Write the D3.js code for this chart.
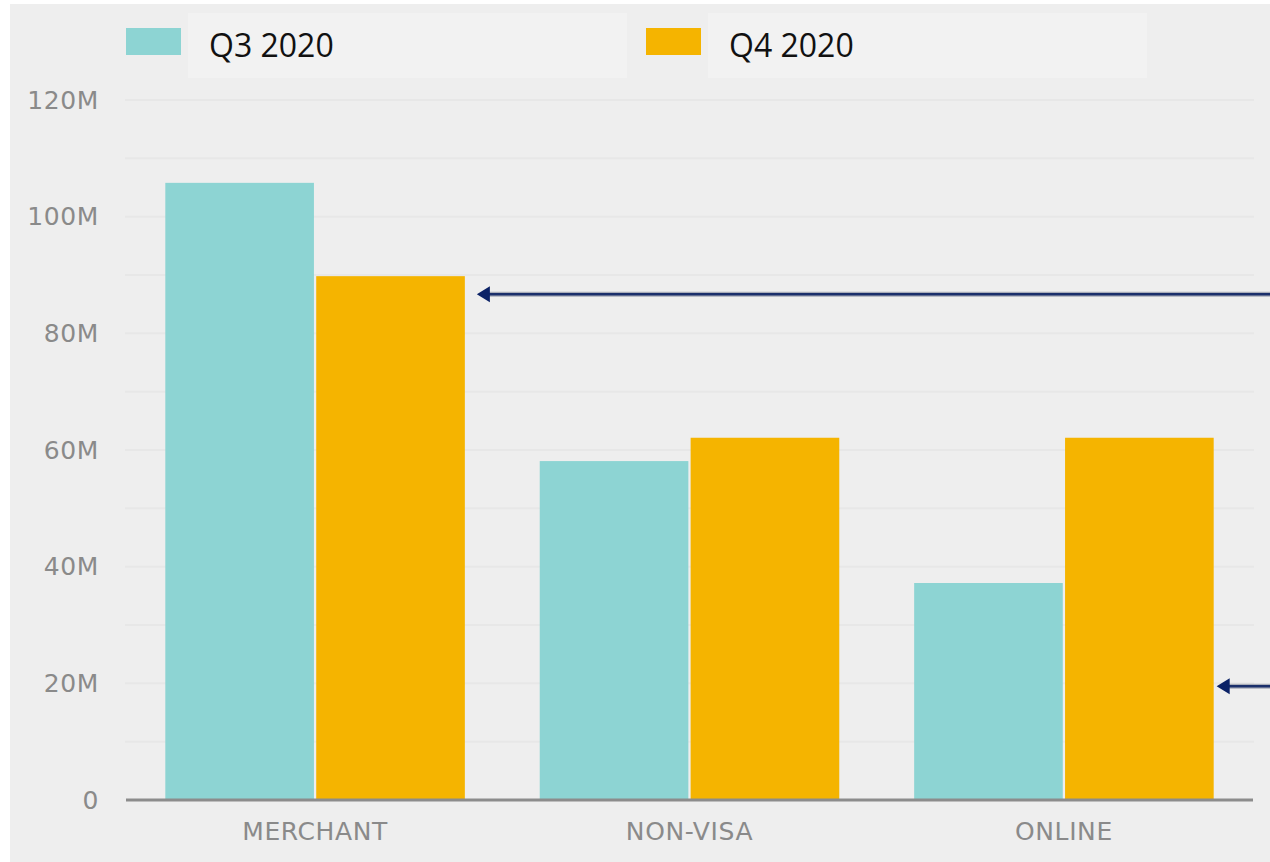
<!DOCTYPE html>
<html>
<head>
<meta charset="utf-8">
<script src="https://cdn.jsdelivr.net/npm/d3@7"></script>
<style>
  html, body { margin: 0; padding: 0; background: #ffffff; }
  svg { display: block; }
</style>
</head>
<body>
<svg id="chart" width="1270" height="862"></svg>
<script>
// data
const categories = ["MERCHANT", "NON-VISA", "ONLINE"]
const seriesNames = ["Q3 2020", "Q4 2020"]
const q3Values = [105.8e6, 58.1e6, 37.2e6]
const q4Values = [89.8e6, 62.1e6, 62.1e6]
const yTickValues = [0, 20e6, 40e6, 60e6, 80e6, 100e6, 120e6]
const yTickLabels = ["0", "20M", "40M", "60M", "80M", "100M", "120M"]
const gridValues = [10e6, 20e6, 30e6, 40e6, 50e6, 60e6, 70e6, 80e6, 90e6, 100e6, 110e6, 120e6]
// annotation arrows (point at a bar, at a given value)
const arrowCategories = ["MERCHANT", "ONLINE"]
const arrowSeries = ["Q4 2020", "Q4 2020"]
const arrowValues = [86.7e6, 19.5e6]

const colors = { "Q3 2020": "#8dd4d3", "Q4 2020": "#f5b400" }

const rows = categories.map((c, i) => ({
  category: c,
  values: [
    { series: seriesNames[0], value: q3Values[i] },
    { series: seriesNames[1], value: q4Values[i] }
  ]
}))

const svg = d3.select("#chart")

// panel background
svg.append("rect")
  .attr("x", 10).attr("y", 4)
  .attr("width", 1260).attr("height", 858)
  .attr("fill", "#eeeeee")

const plotLeft = 126, plotRight = 1253, plotTop = 100, plotBottom = 800

const x0 = d3.scaleBand()
  .domain(categories)
  .range([plotLeft, plotRight])
  .paddingInner(0.2)
  .paddingOuter(0.105)

const x1 = d3.scaleBand()
  .domain(seriesNames)
  .range([0, x0.bandwidth()])
  .paddingInner(0.015)

const y = d3.scaleLinear()
  .domain([0, 120e6])
  .range([plotBottom, plotTop])

// gridlines
svg.append("g")
  .selectAll("line")
  .data(gridValues)
  .join("line")
    .attr("x1", plotLeft - 1)
    .attr("x2", plotRight + 1)
    .attr("y1", d => y(d))
    .attr("y2", d => y(d))
    .attr("stroke", "#e7e7e7")
    .attr("stroke-width", 2)

const labelStyle = g => g.selectAll("text")
  .attr("fill", "#8a8a8a")
  .attr("font-family", "DejaVu Sans, sans-serif")
  .attr("font-size", 25)
  .attr("letter-spacing", 0.6)

// y axis labels
const yAxis = d3.axisLeft(y)
  .tickValues(yTickValues)
  .tickSize(0)
  .tickPadding(0)
  .tickFormat((d, i) => yTickLabels[i])

svg.append("g")
  .attr("transform", "translate(99,0)")
  .call(yAxis)
  .call(g => g.select(".domain").remove())
  .call(labelStyle)

// bars
const groups = svg.append("g")
  .selectAll("g")
  .data(rows)
  .join("g")
    .attr("transform", d => `translate(${x0(d.category)},0)`)

groups.selectAll("rect")
  .data(d => d.values)
  .join("rect")
    .attr("x", d => x1(d.series))
    .attr("y", d => y(d.value))
    .attr("width", x1.bandwidth())
    .attr("height", d => y(0) - y(d.value))
    .attr("fill", d => colors[d.series])

// baseline
svg.append("line")
  .attr("x1", plotLeft).attr("x2", plotRight)
  .attr("y1", y(0)).attr("y2", y(0))
  .attr("stroke", "#8c8c8c")
  .attr("stroke-width", 3)

// x axis labels
const xAxis = d3.axisBottom(x0)
  .tickSize(0)
  .tickPadding(22)

svg.append("g")
  .attr("transform", `translate(0,${y(0)})`)
  .call(xAxis)
  .call(g => g.select(".domain").remove())
  .call(labelStyle)

// legend
const legendBoxes = [188, 708]
const legend = svg.append("g")
  .selectAll("g")
  .data(seriesNames)
  .join("g")
    .attr("transform", (d, i) => `translate(${legendBoxes[i]},0)`)

legend.append("rect")
  .attr("x", 0).attr("y", 13)
  .attr("width", 439).attr("height", 65)
  .attr("fill", "#f2f2f2")

legend.append("rect")
  .attr("x", -62).attr("y", 28)
  .attr("width", 55).attr("height", 27)
  .attr("fill", d => colors[d])

legend.append("text")
  .attr("x", 21).attr("y", 57)
  .attr("fill", "#111111")
  .attr("font-family", "Open Sans, sans-serif")
  .attr("font-size", 32)
  .text(d => d)

// arrows
const arrowGaps = [12, 3]
const arrows = svg.append("g")
arrowValues.forEach((v, i) => {
  const tipX = x0(arrowCategories[i]) + x1(arrowSeries[i]) + x1.bandwidth() + arrowGaps[i]
  const ay = y(v)
  arrows.append("line")
    .attr("x1", tipX + 8).attr("x2", 1275)
    .attr("y1", ay).attr("y2", ay)
    .attr("stroke", "#a9adb8")
    .attr("stroke-width", 5)
  arrows.append("line")
    .attr("x1", tipX + 8).attr("x2", 1275)
    .attr("y1", ay).attr("y2", ay)
    .attr("stroke", "#1a2f6b")
    .attr("stroke-width", 2.5)
  arrows.append("path")
    .attr("d", `M${tipX},${ay} L${tipX + 13},${ay - 8} L${tipX + 13},${ay + 8} Z`)
    .attr("fill", "#0b2266")
})
</script>
</body>
</html>
